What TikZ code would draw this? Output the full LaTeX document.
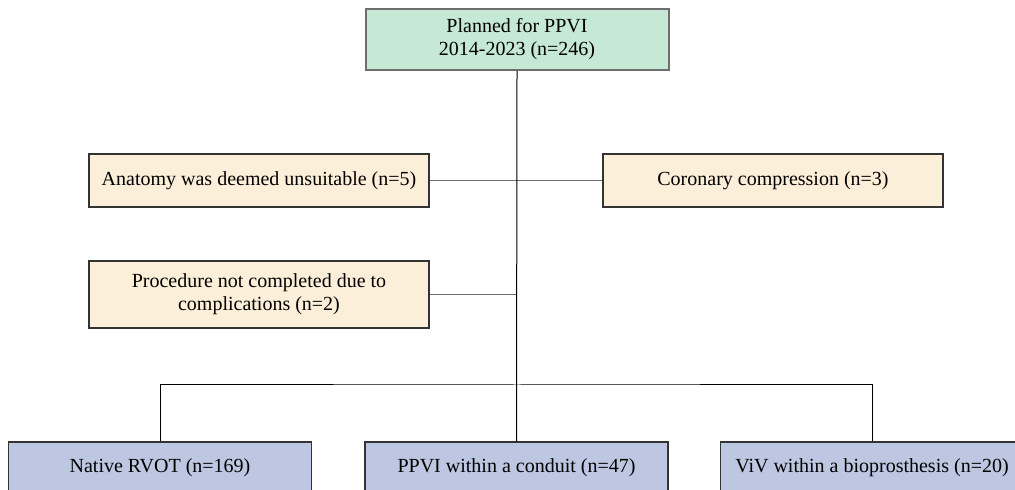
\documentclass[tikz,border=0pt]{standalone}
\usepackage{fontspec}
\setmainfont{Liberation Serif}
\usepackage{xcolor}
\usetikzlibrary{positioning}

\definecolor{startfill}{HTML}{C6E9D6}
\definecolor{exclfill}{HTML}{FCEFD9}
\definecolor{groupfill}{HTML}{BDC7E1}
\definecolor{edgegray}{HTML}{6E6E6E}

\begin{document}
\begin{tikzpicture}[
            x=0.5pt, y=-0.5pt,
            font=\fontsize{10pt}{11.5pt}\selectfont,
            box/.style={draw=black!80, line width=0.6pt, rectangle, minimum width=170pt, minimum height=26.5pt, align=center, inner sep=2pt},
            startbox/.style={box, draw=edgegray, line width=1pt, fill=startfill, minimum width=151.5pt, minimum height=30.5pt},
            exclbox/.style={box, fill=exclfill},
            groupbox/.style={box, fill=groupfill, minimum width=151.5pt, minimum height=26pt},
            link/.style={line width=0.5pt, black},
            sidelink/.style={line width=0.6pt, edgegray}
        ]
            \useasboundingbox (0,0) rectangle (1015,490);
            \clip (0,0) rectangle (1015,490);

            % --- START ---
            \node[startbox] (plan) at (517, 39.5) {Planned for PPVI\\2014-2023 (n=246)};

            % --- EXCLUSIONS ---
            \node[exclbox] (anat) at (259, 180.5) {Anatomy was deemed unsuitable (n=5)};
            \node[exclbox] (coro) at (773, 180.5) {Coronary compression (n=3)};
            \node[exclbox, minimum height=33.5pt] (proc) at (259, 294.5) {Procedure not completed due to\\complications (n=2)};

            % --- GROUPS ---
            \node[groupbox] (native) at (160, 468) {Native RVOT (n=169)};
            \node[groupbox] (conduit) at (516.5, 468) {PPVI within a conduit (n=47)};
            \node[groupbox] (viv) at (872, 468) {ViV within a bioprosthesis (n=20)};

            \coordinate (split) at (517, 385);

            % connectors
            \draw[sidelink] (anat.east) -- (coro.west);
            \draw[sidelink] (proc.east) -- (proc.east -| plan.south);
            \draw[link] (plan.south) -- (conduit.north);
            \draw[link] (native.north) |- (split) -| (viv.north);

        \end{tikzpicture}
\end{document}
